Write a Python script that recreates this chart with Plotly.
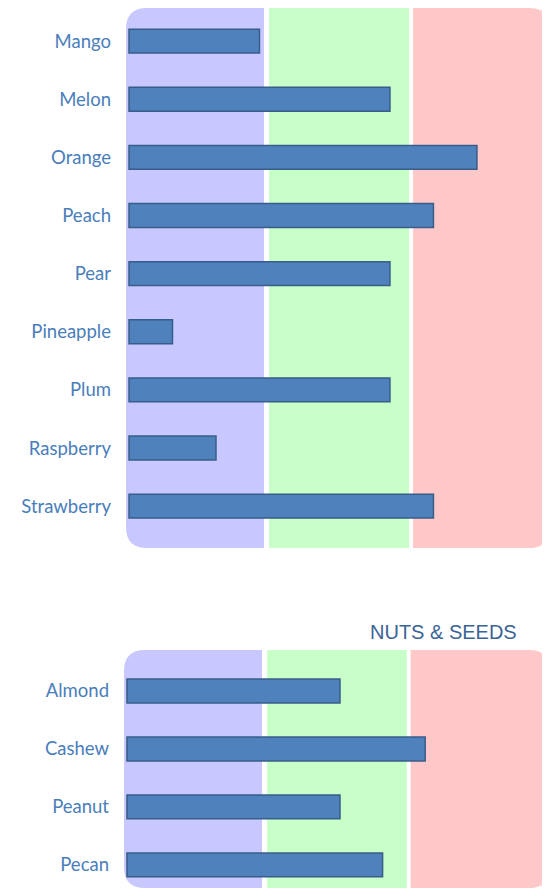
import plotly.graph_objects as go

fruit_names = ["Mango", "Melon", "Orange", "Peach", "Pear", "Pineapple", "Plum", "Raspberry", "Strawberry"]
fruit_values = [3, 6, 8, 7, 6, 1, 6, 2, 7]

nut_names = ["Almond", "Cashew", "Peanut", "Pecan"]
nut_values = [5, 7, 5, 6]
nut_title = "NUTS & SEEDS"

# page offset (body margin) compensation
OX, OY = 8, 8
W, H = 550 - OX, 896 - 2 * OY
BAR = "#4f81bd"
BAR_LINE = "#385d8a"
LABEL = "#4a7ebb"
PURPLE, GREEN, RED = "#c8c8ff", "#c8ffc8", "#ffc8c8"

fig = go.Figure()

# panel pixel boxes in screen coordinates
top_px = dict(x0=126, x1=550, y0=8, y1=548)
bot_px = dict(x0=124, x1=550, y0=650, y1=888)


def dom(px):
    x0 = (px["x0"] - OX) / W
    x1 = min((px["x1"] - OX) / W, 1.0)
    y0 = 1 - (px["y1"] - OY) / H
    y1 = 1 - (px["y0"] - OY) / H
    return [x0, x1], [max(y0, 0.0), min(y1, 1.0)]


tx, ty = dom(top_px)
bx, by = dom(bot_px)

fig.add_trace(go.Bar(x=fruit_values, y=fruit_names, orientation="h", width=0.41,
                     marker=dict(color=BAR, line=dict(color=BAR_LINE, width=1.5)),
                     xaxis="x", yaxis="y", showlegend=False, hoverinfo="x+y"))
fig.add_trace(go.Bar(x=nut_values, y=nut_names, orientation="h", width=0.41,
                     marker=dict(color=BAR, line=dict(color=BAR_LINE, width=1.5)),
                     xaxis="x2", yaxis="y2", showlegend=False, hoverinfo="x+y"))

axis_common = dict(showgrid=False, zeroline=False, showline=False)
fig.update_layout(
    width=W, height=H,
    margin=dict(l=0, r=0, t=0, b=0),
    paper_bgcolor="white", plot_bgcolor="rgba(0,0,0,0)",
    font=dict(family="Lato", size=18.5, color=LABEL),
    xaxis=dict(domain=tx, range=[-0.069, 9.68], showticklabels=False, **axis_common),
    yaxis=dict(domain=ty, range=[len(fruit_names) - 1 + 0.72, -0.57], type="category",
               ticks="", ticklabelstandoff=14, anchor="x", **axis_common),
    xaxis2=dict(domain=bx, range=[-0.07, 9.93], showticklabels=False, anchor="y2", **axis_common),
    yaxis2=dict(domain=by, range=[len(nut_names) - 1 + 0.397, -0.707], type="category",
                ticks="", ticklabelstandoff=14, anchor="x2", **axis_common),
)


def band_shapes(px, xr, yr, edges):
    w = px["x1"] - px["x0"]
    h = px["y1"] - px["y0"]
    r = 21
    rx, ry = r / w, r / h
    (p0, p1), (g0, g1), (r0, r1) = edges
    shapes = []
    path_p = (f"M {p0+rx},1 L {p1},1 L {p1},0 L {p0+rx},0 Q {p0},0 {p0},{ry} "
              f"L {p0},{1-ry} Q {p0},1 {p0+rx},1 Z")
    shapes.append(dict(type="path", path=path_p, xref=xr, yref=yr, fillcolor=PURPLE,
                       line=dict(width=0), layer="below"))
    shapes.append(dict(type="rect", x0=g0, x1=g1, y0=0, y1=1, xref=xr, yref=yr,
                       fillcolor=GREEN, line=dict(width=0), layer="below"))
    path_r = (f"M {r0},1 L {r1-rx},1 Q {r1},1 {r1},{1-ry} L {r1},{ry} Q {r1},0 {r1-rx},0 "
              f"L {r0},0 Z")
    shapes.append(dict(type="path", path=path_r, xref=xr, yref=yr, fillcolor=RED,
                       line=dict(width=0), layer="below"))
    return shapes


shapes = []
shapes += band_shapes(top_px, "x domain", "y domain",
                      [(0, 0.3255), (0.3373, 0.6675), (0.677, 1)])
shapes += band_shapes(bot_px, "x2 domain", "y2 domain",
                      [(0, 0.324), (0.336, 0.664), (0.673, 1)])
fig.update_layout(shapes=shapes)

fig.add_annotation(text=nut_title, x=(443 - OX) / W, y=1 - (632 - OY) / H,
                   xref="paper", yref="paper",
                   showarrow=False, xanchor="center", yanchor="middle",
                   font=dict(family="Liberation Sans", size=20, color="#3b6496"))

fig.write_html("out.html")
